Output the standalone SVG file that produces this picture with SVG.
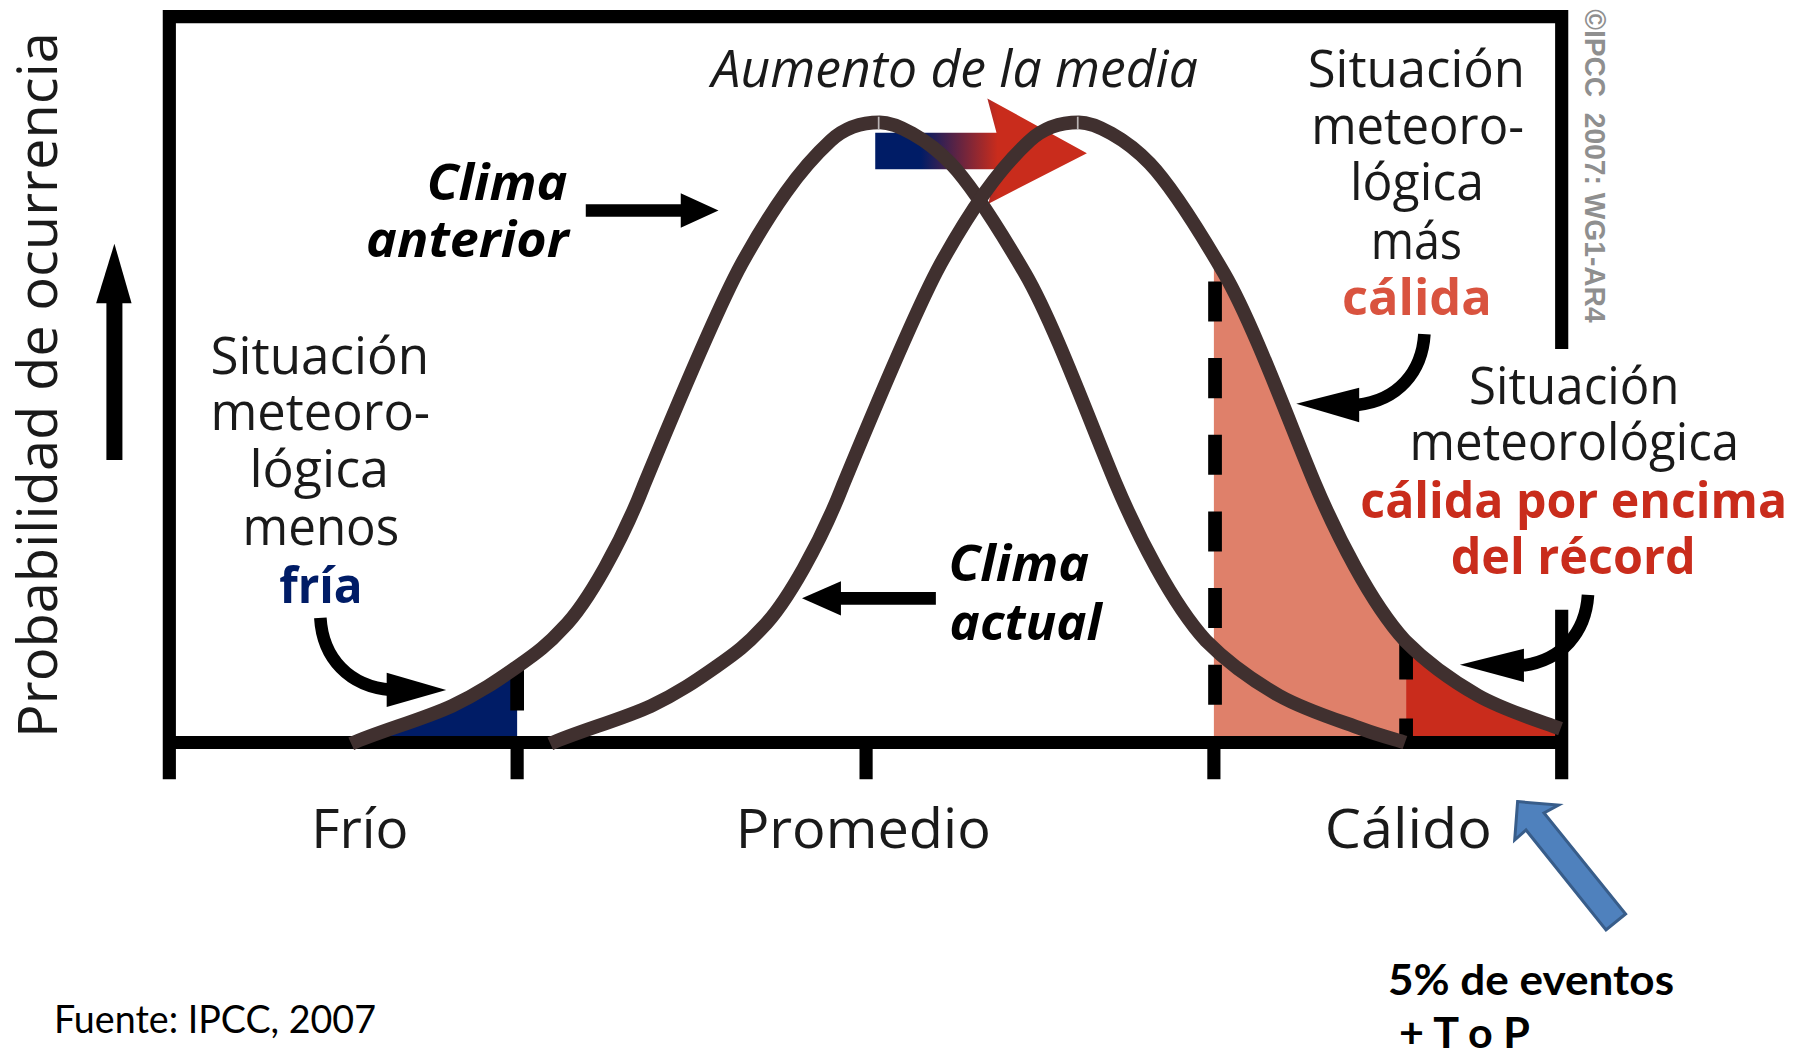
<svg xmlns="http://www.w3.org/2000/svg" width="1794" height="1054" viewBox="0 0 1794 1054">
<style>
text{font-family:"Open Sans","Noto Sans","Liberation Sans",sans-serif;fill:#1a1a1a;font-size:44px}
.b{font-weight:700}
.bi{font-weight:700;font-style:italic;fill:#000}
.i{font-style:italic}
.big{font-size:48px}
.cal{font-family:"Lato","Liberation Sans",sans-serif;fill:#000;font-size:39px}
.axis{fill:none;stroke:#000;stroke-width:11.5}
.dash{fill:none;stroke:#000;stroke-width:12;stroke-dasharray:35 32;stroke-dashoffset:-8}
.curve{fill:none;stroke:#40302f;stroke-width:12}
.carrow{fill:none;stroke:#000;stroke-width:11}
</style>
<defs>
<linearGradient id="meanGrad" gradientUnits="userSpaceOnUse" x1="805" y1="0" x2="872" y2="0">
<stop offset="0" stop-color="#001c66"/><stop offset="1" stop-color="#c92c1c"/>
</linearGradient>
<clipPath id="clipCold"><rect x="300" y="500" width="152" height="145"/></clipPath>
<clipPath id="clipWarm"><rect x="1061" y="100" width="168" height="545"/></clipPath>
<clipPath id="clipHot"><rect x="1229" y="100" width="133" height="545"/></clipPath>
<path id="bell" d="M-462,543C-440,533 -398.3,521.3 -374,510C-349.7,498.7 -332.2,486.3 -316,475C-299.8,463.7 -290,456.3 -277,442C-255,420 -225,365 -207,319C-190,278 -145,168 -121,124C-110,104 -95,79.3 -82,61C-69,42.7 -56,28 -43,16C-30,4 -14,0 0,0C14,0 41,14 62,36C83,58 109.7,102.5 127,132C152,175 185,265 206,315C225,360 255,420 285,453C302.8,471 326.3,488.2 349,501C371.7,513.8 402.7,523.2 421,530C439.3,536.8 452,539.5 459,542"/>
<path id="bellShort" d="M-462,543C-440,533 -398.3,521.3 -374,510C-349.7,498.7 -332.2,486.3 -316,475C-299.8,463.7 -290,456.3 -277,442C-255,420 -225,365 -207,319C-190,278 -145,168 -121,124C-110,104 -95,79.3 -82,61C-69,42.7 -56,28 -43,16C-30,4 -14,0 0,0C14,0 41,14 62,36C83,58 109.7,102.5 127,132C152,175 185,265 206,315C225,360 255,420 285,453C302.8,471 326.3,488.2 349,501C371.7,513.8 402.7,523.2 421,530"/>
<path id="bellArea" d="M0,0C14,0 41,14 62,36C83,58 109.7,102.5 127,132C152,175 185,265 206,315C225,360 255,420 285,453C302.8,471 326.3,488.2 349,501C371.7,513.8 402.7,523.2 421,530V545H0Z"/>
</defs>
<rect width="1794" height="1054" fill="#fff"/>
<g transform="scale(1.1441)">
<g id="fills">
<g clip-path="url(#clipCold)"><path fill="#001c66" transform="translate(769,107)" d="M-462,543C-440,533 -398.3,521.3 -374,510C-349.7,498.7 -332.2,486.3 -316,475C-299.8,463.7 -290,456.3 -277,442V543Z"/></g>
<g clip-path="url(#clipWarm)"><use href="#bellArea" transform="translate(943,107)" fill="#df806a"/></g>
<g clip-path="url(#clipHot)"><use href="#bellArea" transform="translate(943,107)" fill="#c92c1c"/></g>
</g>
<g id="frame">
<path class="axis" d="M148,681V14.5H1365V305M1365,533V681M148,649H1365M452,649V681M757,649V681M1061,649V681"/>
<path class="dash" d="M1062,238V649"/>
<path class="axis" d="M1229,560V594M1229,628V649M452,580V621" style="stroke-width:12"/>
</g>
<g id="mean-arrow">
<path fill="url(#meanGrad)" d="M765,116H871L863,86L950,134L864,178L870,148H765Z"/>
</g>
<g id="curves">
<use href="#bell" class="curve" transform="translate(769,107)"/>
<use href="#bellShort" class="curve" transform="translate(943,107)"/>
<path d="M768,102V113M942,102V113" stroke="#b9b3b3" stroke-width="1.5" fill="none"/>
</g>
<g id="connectors">
<path d="M512,184H598" fill="none" stroke="#000" stroke-width="11"/><path d="M595,169L628,184L595,199Z"/>
<path d="M818,523H730" fill="none" stroke="#000" stroke-width="11"/><path d="M735,508L701,523L735,538Z"/>
<path d="M100,402V262" fill="none" stroke="#000" stroke-width="14"/><path d="M84,265L100,213L115,265Z"/>
<path class="carrow" d="M280,540C282,575 305,600 342,603"/><path d="M338,588L390,603L338,618Z"/>
<path class="carrow" d="M1245,292C1243,325 1222,350 1186,354"/><path d="M1188,339L1133,353L1188,369Z"/>
<path class="carrow" d="M1388,520C1386,552 1366,578 1328,582"/><path d="M1332,567L1276,581L1332,596Z"/>
</g>
<g id="label-mean"><text class="i" x="622" y="76" textLength="425" lengthAdjust="spacingAndGlyphs">Aumento de la media</text></g>
<g id="label-warmer">
<text x="1143" y="76" textLength="190" lengthAdjust="spacingAndGlyphs">Situación</text>
<text x="1146" y="126" textLength="186" lengthAdjust="spacingAndGlyphs">meteoro-</text>
<text x="1180" y="175" textLength="117" lengthAdjust="spacingAndGlyphs">lógica</text>
<text x="1198" y="226" textLength="80" lengthAdjust="spacingAndGlyphs">más</text>
<text class="b" x="1173" y="275" textLength="131" lengthAdjust="spacingAndGlyphs" style="fill:#d9533f">cálida</text>
</g>
<g id="label-colder">
<text x="184" y="327" textLength="191" lengthAdjust="spacingAndGlyphs">Situación</text>
<text x="184" y="376" textLength="192" lengthAdjust="spacingAndGlyphs">meteoro-</text>
<text x="218" y="426" textLength="122" lengthAdjust="spacingAndGlyphs">lógica</text>
<text x="212" y="476" textLength="137" lengthAdjust="spacingAndGlyphs">menos</text>
<text class="b" x="244" y="527" textLength="73" lengthAdjust="spacingAndGlyphs" style="fill:#001c66">fría</text>
</g>
<g id="label-record">
<text x="1284" y="353" textLength="184" lengthAdjust="spacingAndGlyphs">Situación</text>
<text x="1232" y="402" textLength="288" lengthAdjust="spacingAndGlyphs">meteorológica</text>
<text class="b" x="1189" y="453" textLength="373" lengthAdjust="spacingAndGlyphs" style="fill:#c92c1c">cálida por encima</text>
<text class="b" x="1268" y="502" textLength="214" lengthAdjust="spacingAndGlyphs" style="fill:#c92c1c">del récord</text>
</g>
<g id="label-anterior">
<text class="bi" x="373" y="175" textLength="123" lengthAdjust="spacingAndGlyphs">Clima</text>
<text class="bi" x="320" y="225" textLength="177" lengthAdjust="spacingAndGlyphs">anterior</text>
</g>
<g id="label-actual">
<text class="bi" x="829" y="508" textLength="123" lengthAdjust="spacingAndGlyphs">Clima</text>
<text class="bi" x="830" y="559" textLength="133" lengthAdjust="spacingAndGlyphs">actual</text>
</g>
<g id="label-axis">
<text class="big" x="272" y="741" textLength="85" lengthAdjust="spacingAndGlyphs">Frío</text>
<text class="big" x="643" y="741" textLength="223" lengthAdjust="spacingAndGlyphs">Promedio</text>
<text class="big" x="1158" y="741" textLength="146" lengthAdjust="spacingAndGlyphs">Cálido</text>
<text class="big" transform="translate(50,645) rotate(-90)" textLength="617" lengthAdjust="spacingAndGlyphs">Probabilidad de ocurrencia</text>
<text transform="translate(1385,8) rotate(90)" textLength="274" lengthAdjust="spacingAndGlyphs" style="font-size:26px;font-weight:700;fill:#8f8f8f;font-family:'Liberation Sans',sans-serif;white-space:pre">©IPCC  2007: WG1-AR4</text>
</g>
</g>
<g id="blue-arrow">
<path d="M1517.6,801.6L1558.6,805L1544,813L1625.6,914L1606,930L1526,830L1514.7,840Z" fill="#4f81bd" stroke="#385d8a" stroke-width="3"/>
</g>
<g id="note-events">
<text class="cal b" style="font-size:42px" x="1388" y="995" textLength="286" lengthAdjust="spacingAndGlyphs">5% de eventos</text>
<text class="cal b" style="font-size:42px" x="1399" y="1048" textLength="131" lengthAdjust="spacingAndGlyphs">+ T o P</text>
</g>
<g id="note-source">
<text class="cal" x="54" y="1033" textLength="322" lengthAdjust="spacingAndGlyphs">Fuente: IPCC, 2007</text>
</g>
</svg>
